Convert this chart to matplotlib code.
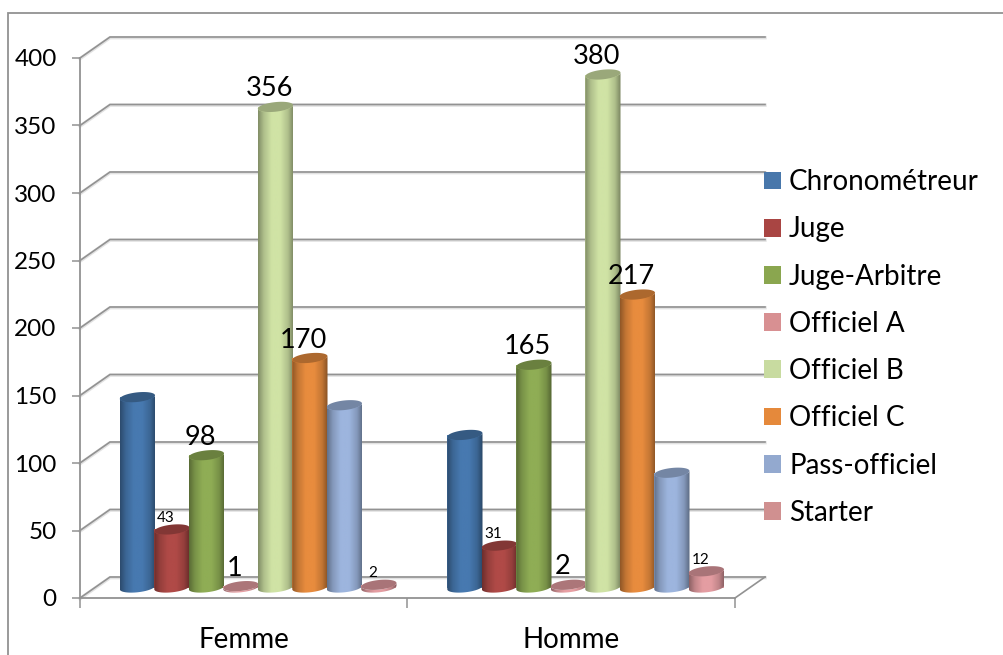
import numpy as np
import matplotlib
matplotlib.use("Agg")
import matplotlib.pyplot as plt
from matplotlib.colors import LinearSegmentedColormap, to_rgb
from matplotlib.lines import Line2D
from matplotlib.patches import Patch, Polygon, PathPatch
from matplotlib.path import Path
import matplotlib.patheffects as pe

categories = ["Femme", "Homme"]
series = ["Chronométreur", "Juge", "Juge-Arbitre", "Officiel A",
          "Officiel B", "Officiel C", "Pass-officiel", "Starter"]
femme = [141, 43, 98, 1, 356, 170, 135, 2]
homme = [113, 31, 165, 2, 380, 217, 85, 12]
shown_femme = [None, "43", "98", "1", "356", "170", None, "2"]
shown_homme = [None, "31", "165", "2", "380", "217", None, "12"]
small_labels = {"Juge", "Starter"}
yticks = [0, 50, 100, 150, 200, 250, 300, 350, 400]

bar_colors = ["#4779b0", "#b04a47", "#8fad55", "#e8a0a4", "#d0e3a5", "#e88c3e", "#9db5de", "#e49da2"]
legend_colors = ["#4877ab", "#a94543", "#8aa64f", "#d89092", "#c8dba0", "#e5893b", "#93a9cf", "#d09090"]

plt.rcParams["font.family"] = ["Lato", "DejaVu Sans"]
W, H = 1004, 655
fig = plt.figure(figsize=(W / 100, H / 100), dpi=100, facecolor="white")
ax = fig.add_axes([80 / W, (H - 598) / H, 655 / W, 540 / H])
ax.set_xlim(0, 2)
ax.set_ylim(0, 400)
ax.patch.set_visible(False)

PX = 2 / 655      # x units per pixel
PY = 400 / 540    # y units per pixel
GRAY = "#929292"

# walls / gridlines
back_dx, back_dy = 30 * PX, 21 * PY
stroke = [pe.Stroke(linewidth=2.4, foreground="#e2e2e2", offset=(0, -0.5)), pe.Normal()]
for t in yticks:
    ax.plot([0, back_dx, 2 + back_dx], [t, t + back_dy, t + back_dy], color=GRAY, lw=1.2,
            clip_on=False, zorder=1, path_effects=stroke, solid_joinstyle="miter")
ax.plot([2, 2 + back_dx], [0, back_dy], color=GRAY, lw=1.2, clip_on=False, zorder=1)

for s in ("top", "right"):
    ax.spines[s].set_visible(False)
for s in ("left", "bottom"):
    ax.spines[s].set_color(GRAY)
    ax.spines[s].set_linewidth(1.3)

ax.set_yticks(yticks)
ax.tick_params(axis="y", length=5.8, width=1.1, color=GRAY, labelsize=17.5, pad=11, labelcolor="black")
ax.set_xticks([0, 1, 2])
ax.set_xticklabels([])
ax.set_xticks([0.5, 1.5], minor=True)
ax.set_xticklabels(categories, minor=True)
ax.tick_params(axis="x", which="major", length=7.5, width=1.1, color=GRAY)
ax.tick_params(axis="x", which="minor", length=0, labelsize=20, pad=21, labelcolor="black")

# cylinders
rx = 17.6 * PX
ry = 4.8 * PY
tilt = 1.8 * PY
depth_x = 14.4 * PX
depth_y = 10.5 * PY
step = 34.5 * PX


def ellipse(cx, cy, t):
    return np.column_stack([cx + rx * np.cos(t), cy + ry * np.sin(t) + tilt * np.cos(t)])


def shade(c, f):
    return tuple(v * f for v in to_rgb(c))


for s, name in enumerate(series):
    base = bar_colors[s]
    cmap = LinearSegmentedColormap.from_list("cyl", [
        (0.0, shade(base, 0.62)), (0.16, shade(base, 0.84)), (0.38, shade(base, 1.0)),
        (0.62, shade(base, 1.0)), (0.84, shade(base, 0.84)), (1.0, shade(base, 0.58))])
    z = 3 + s
    for g, vals in enumerate((femme, homme)):
        v = vals[s]
        cx = g + 0.5 + depth_x + (s - 3.5) * step
        bars = ax.bar(cx, v, width=2 * rx, bottom=depth_y, color=base, linewidth=0, zorder=z)
        t_low = np.linspace(np.pi, 2 * np.pi, 60)
        low = ellipse(cx, depth_y, t_low)
        t_up = np.linspace(2 * np.pi, np.pi, 60)
        up = ellipse(cx, depth_y + v, t_up)
        outline = np.vstack([low, up, low[:1]])
        im = ax.imshow(np.linspace(0, 1, 128)[None, :], cmap=cmap, aspect="auto", interpolation="bilinear",
                       extent=(cx - rx, cx + rx, depth_y - 2 * ry, depth_y + v + 2 * ry),
                       vmin=0, vmax=1, zorder=z)
        codes = [Path.MOVETO] + [Path.LINETO] * (len(outline) - 2) + [Path.CLOSEPOLY]
        clip = PathPatch(Path(outline, codes), transform=ax.transData, fc="none", ec="none")
        ax.add_patch(clip)
        im.set_clip_path(clip)
        ax.add_patch(Polygon(ellipse(cx, depth_y + v, np.linspace(0, 2 * np.pi, 80)),
                             closed=True, fc=shade(base, 0.74), ec="none", zorder=z + 0.5))
        label = (shown_femme, shown_homme)[g][s]
        if label is not None:
            small = name in small_labels
            ax.annotate(label, (cx, depth_y + v), xytext=(-4.4, 5.5 if small else 7.5),
                        textcoords="offset points", ha="center", va="baseline",
                        fontsize=11 if small else 19.5, color="black", zorder=20,
                        annotation_clip=False)

ax.set_xlim(0, 2)
ax.set_ylim(0, 400)

# legend
handles = [Patch(facecolor=c, edgecolor="none", label=n) for c, n in zip(legend_colors, series)]
fig.legend(handles=handles, loc="center left", bbox_to_anchor=(764 / W, (H - 347.5) / H),
           frameon=False, fontsize=20, handlelength=0.612, handleheight=0.612, handletextpad=0.29,
           labelspacing=0.764, borderpad=0, borderaxespad=0, labelcolor="black")

# outer frame
fig.add_artist(Line2D([8 / W, 8 / W, 1], [0, (H - 13) / H, (H - 13) / H], color=GRAY, lw=1.3,
                      transform=fig.transFigure, solid_joinstyle="miter"))

fig.savefig("out.png", dpi=100, facecolor="white")
